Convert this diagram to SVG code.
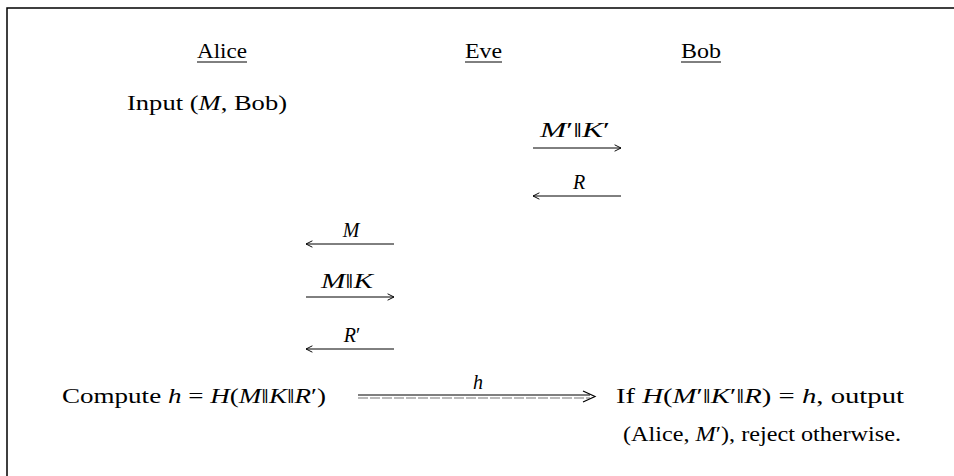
<svg xmlns="http://www.w3.org/2000/svg" width="954" height="476" viewBox="0 0 954 476">
<defs>
<style>
text{font-family:"Liberation Serif","DejaVu Serif",serif;font-size:20px;fill:#000}
.i{font-style:italic}
.c{text-anchor:middle}
.ln{stroke:#000;stroke-width:1;fill:none}
.frame{stroke:#000;stroke-width:1.5;fill:none}
</style>
<marker id="ah" viewBox="0 0 10 10" refX="9" refY="5" markerWidth="8" markerHeight="8" markerUnits="userSpaceOnUse" orient="auto">
<path d="M1,1 L9,5 L1,9" fill="none" stroke="#000" stroke-width="1.2"/>
</marker>
</defs>
<rect width="954" height="476" fill="#fff"/>
<path class="frame" d="M7,476 V8 H954"/>
<g id="alice"><text x="197" y="58" textLength="50" lengthAdjust="spacingAndGlyphs">Alice</text><line class="ln" x1="197" y1="62" x2="247" y2="62"/></g>
<g id="eve"><text x="465" y="58" textLength="37" lengthAdjust="spacingAndGlyphs">Eve</text><line class="ln" x1="465" y1="62" x2="502" y2="62"/></g>
<g id="bob"><text x="681" y="58" textLength="40" lengthAdjust="spacingAndGlyphs">Bob</text><line class="ln" x1="681" y1="62" x2="721" y2="62"/></g>
<g id="input"><text x="127" y="110" textLength="160" lengthAdjust="spacingAndGlyphs">Input (<tspan class="i">M</tspan>, Bob)</text></g>
<g id="compute"><text x="62" y="403" textLength="264" lengthAdjust="spacingAndGlyphs">Compute <tspan class="i">h</tspan> = <tspan class="i">H</tspan>(<tspan class="i">M</tspan>‖<tspan class="i">K</tspan>‖<tspan class="i">R</tspan>′)</text></g>
<g id="verify"><text x="616" y="403" textLength="288" lengthAdjust="spacingAndGlyphs">If <tspan class="i">H</tspan>(<tspan class="i">M</tspan>′‖<tspan class="i">K</tspan>′‖<tspan class="i">R</tspan>) = <tspan class="i">h</tspan>, output</text>
<text x="623" y="441" textLength="278" lengthAdjust="spacingAndGlyphs">(Alice, <tspan class="i">M</tspan>′), reject otherwise.</text></g>
<g id="connectors">
<text x="540" y="137" textLength="70" lengthAdjust="spacingAndGlyphs"><tspan class="i">M</tspan>′‖<tspan class="i">K</tspan>′</text>
<line class="ln" x1="533" y1="148" x2="621" y2="148" marker-end="url(#ah)"/>
<text x="579" y="189" class="c i">R</text>
<line class="ln" x1="621" y1="196" x2="533" y2="196" marker-end="url(#ah)"/>
<text x="351" y="237" class="c i">M</text>
<line class="ln" x1="394" y1="244" x2="306" y2="244" marker-end="url(#ah)"/>
<text x="321" y="288" textLength="52" lengthAdjust="spacingAndGlyphs"><tspan class="i">M</tspan>‖<tspan class="i">K</tspan></text>
<line class="ln" x1="306" y1="297" x2="394" y2="297" marker-end="url(#ah)"/>
<text x="352" y="342" class="c"><tspan class="i">R</tspan>′</text>
<line class="ln" x1="394" y1="349" x2="306" y2="349" marker-end="url(#ah)"/>
<text x="478" y="389" class="c i">h</text>
<line class="ln" x1="358" y1="395" x2="590" y2="395"/>
<line x1="358" y1="398" x2="590" y2="398" stroke="#777" stroke-width="1.2" stroke-dasharray="10,2"/>
<path d="M583,391 L595,396.5 L583,402" fill="none" stroke="#000" stroke-width="1.2"/>
</g>
</svg>
